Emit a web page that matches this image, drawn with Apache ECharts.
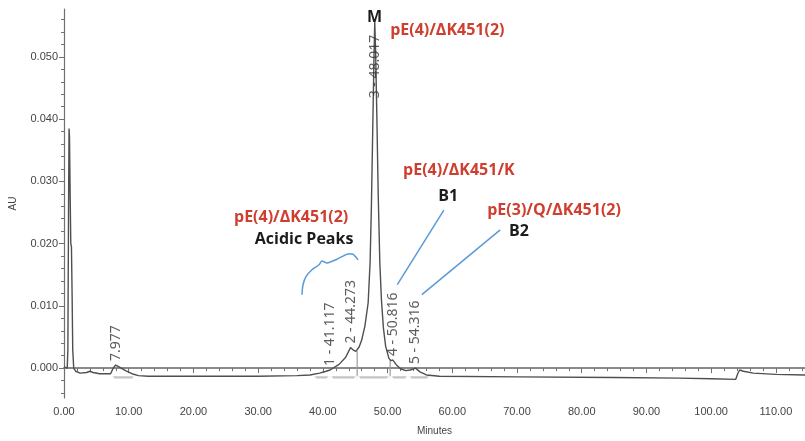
<!DOCTYPE html>
<html>
<head>
<meta charset="utf-8">
<script src="https://cdn.jsdelivr.net/npm/echarts@6/dist/echarts.min.js"></script>
<style>
  html, body { margin: 0; padding: 0; background: #fff; }
  #chart { width: 805px; height: 441px; }
</style>
</head>
<body>
<div id="chart"></div>
<script>
// Chromatogram trace: retention time (minutes) and absorbance (AU)
const time = [
  0.0, 0.3, 0.5, 0.6, 0.7, 0.78, 0.85, 0.95, 1.05, 1.15, 1.25, 1.35, 1.5, 1.8,
  2.5, 3.5, 4.0, 4.5, 5.5, 6.5, 7.2, 7.6, 7.977, 8.5, 9.5, 10.5, 11.5, 13,
  20, 30, 36, 38, 39.5, 40.5, 41.117, 42.5, 43.5, 44.273, 44.7, 45.1, 45.6,
  46.0, 46.5, 47.0, 47.3, 47.5, 47.7, 47.9, 48.017, 48.15, 48.35, 48.55, 48.8,
  49.05, 49.35, 49.7, 50.2, 50.5, 50.816, 51.3, 52.0, 52.8, 53.5, 54.316,
  55.0, 56.0, 58, 70, 85, 95, 100, 103.8, 104.1, 104.4, 105.0, 106.5, 110, 114.5
];
const au = [
  0.0002, 0.0001, 0.0000, 0.0030, 0.0250, 0.0385, 0.0370, 0.0280, 0.0200, 0.0195, 0.0120, 0.0030, 0.0000, -0.0005,
  -0.0008, -0.0007, -0.0005, -0.0007, -0.0009, -0.0009, -0.0009, 0.0000, 0.0005, 0.0002, -0.0004, -0.0009, -0.0012, -0.0013,
  -0.0013, -0.0013, -0.0012, -0.0011, -0.0008, -0.0005, -0.0003, 0.0006, 0.0017, 0.0033, 0.0029, 0.0027, 0.0034,
  0.0045, 0.0068, 0.0105, 0.0170, 0.0260, 0.0380, 0.0500, 0.0556, 0.0510, 0.0400, 0.0280, 0.0170,
  0.0110, 0.0065, 0.0035, 0.0016, 0.0012, 0.0013, 0.0006, -0.0001, -0.0004, -0.0003, 0.0000,
  -0.0006, -0.0011, -0.0013, -0.0014, -0.0015, -0.0016, -0.0017, -0.0018, -0.0009, -0.0003, -0.0005, -0.0008, -0.0010, -0.0011
];

// Integrated peaks
const peakIds = ['', '1', '2', '3', '4', '5'];
const peakTimes = [7.977, 41.117, 44.273, 48.017, 50.816, 54.316];
const peakHeights = [0.0005, -0.0003, 0.0033, 0.0556, 0.0013, 0.0000];

// Integration events (start / end / drop points) and their baseline level
const eventTimes = [7.3, 11.0, 38.5, 41.1, 45.3, 50.4, 53.2, 56.6];
const eventLevel = -0.0017;
const baselineRuns = [[7.3, 11.0], [38.5, 56.6]];
const baselineLevel = -0.0015;
const dropTimes = [45.3, 50.4];
const dropTops = [0.0027, 0.0014];

// Axis ticks
const xMin = 0, xMax = 114.5, xStep = 10;
const yMin = -0.0048, yMax = 0.0577;
const yMajorTicks = [0.000, 0.010, 0.020, 0.030, 0.040, 0.050];
const yMinorTicks = [-0.004, -0.002, 0.002, 0.004, 0.006, 0.008, 0.012, 0.014, 0.016, 0.018,
  0.022, 0.024, 0.026, 0.028, 0.032, 0.034, 0.036, 0.038, 0.042, 0.044, 0.046, 0.048,
  0.052, 0.054, 0.056];

const RED = '#cf3f30';
const INK = '#1c1c1c';
const BLUE = '#5b9bd5';
const AXIS = '#707070';
const TICKTEXT = '#444';

const trace = time.map((t, i) => [t, au[i]]);
const baselineData = [];
baselineRuns.forEach((r, i) => {
  if (i) baselineData.push('-');
  baselineData.push([r[0], baselineLevel], [r[1], baselineLevel]);
});
const dropData = [];
dropTimes.forEach((t, i) => {
  if (i) dropData.push('-');
  dropData.push([t, eventLevel], [t, dropTops[i]]);
});
// Keep tall peak labels inside the plot frame
const labelSpan = 0.015;
const peakLabelData = peakTimes.map((t, i) => ({
  value: [t, Math.min(peakHeights[i], yMax - labelSpan)],
  name: (peakIds[i] ? peakIds[i] + ' - ' : '') + t.toFixed(3)
}));

const chart = echarts.init(document.getElementById('chart'), null, { renderer: 'canvas' });

chart.setOption({
  animation: false,
  backgroundColor: '#fff',
  grid: { left: 64, right: 0, top: 9, bottom: 40 },
  xAxis: [{
    type: 'value', min: xMin, max: xMax, interval: xStep,
    name: 'Minutes', nameLocation: 'middle', nameGap: 28,
    nameTextStyle: { fontFamily: 'Liberation Sans', fontSize: 10, color: TICKTEXT },
    axisLine: { lineStyle: { color: AXIS, width: 1.2 } },
    axisTick: { length: 5, lineStyle: { color: AXIS } },
    minorTick: { show: true, splitNumber: 5, length: 3, lineStyle: { color: AXIS } },
    axisLabel: {
      formatter: v => v.toFixed(2), showMaxLabel: false, margin: 8,
      fontFamily: 'Liberation Sans', fontSize: 11, color: TICKTEXT
    },
    splitLine: { show: false }
  }, {
    type: 'value', position: 'top', min: xMin, max: xMax,
    axisLine: { lineStyle: { color: '#8a8a8a', width: 2 } },
    axisTick: { show: false }, axisLabel: { show: false }, splitLine: { show: false }
  }],
  yAxis: [{
    type: 'value', min: yMin, max: yMax,
    name: 'AU', nameLocation: 'middle', nameGap: 46, nameRotate: 90,
    nameTextStyle: { fontFamily: 'Liberation Sans', fontSize: 10, color: TICKTEXT },
    axisLine: { show: true, lineStyle: { color: AXIS, width: 1.2 } },
    axisTick: { show: true, length: 5, customValues: yMajorTicks, lineStyle: { color: AXIS } },
    axisLabel: {
      customValues: yMajorTicks, formatter: v => v.toFixed(3), margin: 6,
      fontFamily: 'Liberation Sans', fontSize: 11, color: TICKTEXT
    },
    splitLine: { show: false }
  }, {
    type: 'value', position: 'left', min: yMin, max: yMax,
    axisLine: { show: false },
    axisTick: { show: true, length: 3, customValues: yMinorTicks, lineStyle: { color: AXIS } },
    axisLabel: { show: false },
    splitLine: { show: false }
  }],
  series: [
    {
      name: 'baseline', type: 'line', data: baselineData, symbol: 'none',
      lineStyle: { color: '#c4c4c4', width: 2.2 }, z: 2, silent: true
    },
    {
      name: 'drops', type: 'line', data: dropData, symbol: 'none',
      lineStyle: { color: '#9a9a9a', width: 1.2 }, z: 2, silent: true
    },
    {
      name: 'events', type: 'scatter', data: eventTimes.map(t => [t, eventLevel]),
      symbol: 'emptyCircle', symbolSize: 4,
      itemStyle: { color: '#fff', borderColor: '#8c8c8c', borderWidth: 1 }, z: 3, silent: true
    },
    {
      name: 'trace', type: 'line', data: trace, symbol: 'none', clip: true,
      lineStyle: { color: '#4f4f4f', width: 1.4 }, z: 4, silent: true
    },
    {
      name: 'peakLabels', type: 'scatter', data: peakLabelData, symbolSize: 0, z: 5, silent: true,
      label: {
        show: true, position: 'top', distance: 4, rotate: 90,
        align: 'left', verticalAlign: 'middle',
        formatter: p => p.name,
        fontFamily: 'Noto Sans', fontSize: 14, color: '#333'
      }
    }
  ]
});

// Annotations anchored in data space
const textNotes = [
  { text: 'M', t: 48.0, v: 0.0563, color: INK, align: 'center' },
  { text: 'pE(4)/\u0394K451(2)', t: 50.4, v: 0.0542, color: RED, align: 'left' },
  { text: 'pE(4)/\u0394K451/K', t: 52.4, v: 0.0317, color: RED, align: 'left' },
  { text: 'B1', t: 59.35, v: 0.0276, color: INK, align: 'center' },
  { text: 'pE(3)/Q/\u0394K451(2)', t: 65.4, v: 0.0254, color: RED, align: 'left' },
  { text: 'B2', t: 70.3, v: 0.0220, color: INK, align: 'center' },
  { text: 'pE(4)/\u0394K451(2)', t: 35.1, v: 0.0242, color: RED, align: 'center' },
  { text: 'Acidic Peaks', t: 37.1, v: 0.0207, color: INK, align: 'center' }
];
const callouts = [
  [[58.7, 0.0254], [51.5, 0.0134]],
  [[67.4, 0.0222], [55.3, 0.0118]]
];
const brace = [[36.77, 0.0118], [36.93, 0.0134], [37.39, 0.0147], [38.32, 0.0158],
  [39.40, 0.0166], [39.86, 0.0172], [40.64, 0.0169], [42.18, 0.0175],
  [43.73, 0.0183], [44.65, 0.0183], [45.43, 0.0174]];

const toPx = p => chart.convertToPixel({ seriesIndex: 3 }, p);
const graphics = [];
textNotes.forEach(n => {
  const [x, y] = toPx([n.t, n.v]);
  graphics.push({
    type: 'text', x, y, z: 10,
    style: {
      text: n.text, fill: n.color, align: n.align, verticalAlign: 'middle',
      font: 'bold 16px "Open Sans", "Noto Sans", sans-serif'
    }
  });
});
callouts.forEach(seg => {
  graphics.push({
    type: 'polyline', z: 10,
    shape: { points: seg.map(toPx) },
    style: { stroke: BLUE, lineWidth: 1.5, fill: null }
  });
});
graphics.push({
  type: 'polyline', z: 10,
  shape: { points: brace.map(toPx), smooth: 0.25 },
  style: { stroke: BLUE, lineWidth: 1.5, fill: null }
});
chart.setOption({ graphic: graphics });
</script>
</body>
</html>
